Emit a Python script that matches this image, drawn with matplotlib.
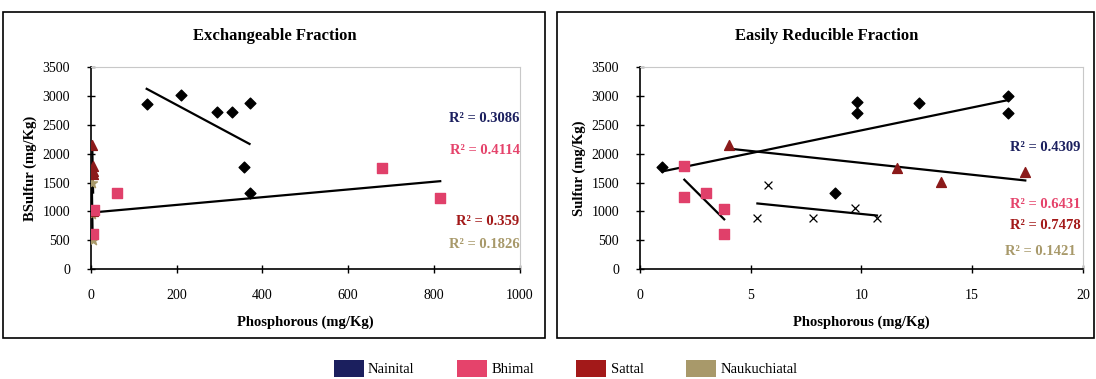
import numpy as np
import matplotlib
matplotlib.use("Agg")
import matplotlib.pyplot as plt
from matplotlib.patches import Patch, Rectangle

plt.rcParams['font.family'] = ['Liberation Serif', 'DejaVu Serif']

sites = ["Nainital", "Bhimal", "Sattal", "Naukuchiatal"]
site_colors = ["#1b1f5e", "#e5436b", "#a31919", "#a8996a"]

# Exchangeable fraction (left)
ex_nainital_p = [130, 210, 295, 330, 370, 357, 370]
ex_nainital_s = [2860, 3020, 2720, 2720, 2880, 1770, 1310]
ex_bhimal_p = [5, 60, 680, 815, 8]
ex_bhimal_s = [600, 1320, 1760, 1230, 1030]
ex_sattal_p = [3, 4, 4, 5, 5]
ex_sattal_s = [2150, 1780, 1700, 1650, 1000]
ex_nauk_p = [2, 3, 3, 4]
ex_nauk_s = [1500, 1000, 950, 500]
ex_r2 = ["0.3086", "0.4114", "0.359", "0.1826"]

# Easily reducible fraction (right)
er_nainital_p = [1, 9.8, 9.8, 12.6, 16.6, 16.6, 8.8]
er_nainital_s = [1770, 2890, 2700, 2870, 3000, 2700, 1310]
er_bhimal_p = [2, 2, 3, 3.8, 3.8]
er_bhimal_s = [1780, 1250, 1320, 1040, 600]
er_sattal_p = [4, 11.6, 13.6, 17.4]
er_sattal_s = [2150, 1750, 1510, 1680]
er_nauk_p = [5.3, 5.8, 7.8, 9.7, 10.7]
er_nauk_s = [890, 1460, 890, 1060, 890]
er_r2 = ["0.4309", "0.6431", "0.7478", "0.1421"]


def trend(ax, x, y):
    x = np.asarray(x, float)
    y = np.asarray(y, float)
    m, b = np.polyfit(x, y, 1)
    xs = np.array([x.min(), x.max()])
    ax.plot(xs, m * xs + b, color="black", lw=1.6, zorder=2)


def style(ax, xlab, ylab, xmax, xstep):
    ax.set_xlim(0, xmax)
    ax.set_ylim(0, 3500)
    ax.set_xticks(np.arange(0, xmax + 1e-9, xstep))
    ax.set_yticks(np.arange(0, 3501, 500))
    ax.tick_params(direction="inout", length=6, width=1, labelsize=10)
    ax.tick_params(axis="x", pad=11)
    ax.tick_params(axis="y", pad=12)
    for s in ["top", "right"]:
        ax.spines[s].set_color("#c8c8c8")
        ax.spines[s].set_linewidth(0.8)
    for s in ["left", "bottom"]:
        ax.spines[s].set_linewidth(1.2)
    ax.set_xlabel(xlab, fontsize=10.5, fontweight="bold", labelpad=10)
    ax.set_ylabel(ylab, fontsize=10.5, fontweight="bold", labelpad=4)


fig = plt.figure(figsize=(10.96, 3.79), dpi=100)

# panel frames
fig.patches.append(Rectangle((0.003, 0.108), 0.494, 0.86, transform=fig.transFigure,
                             fill=False, edgecolor="black", lw=1.2))
fig.patches.append(Rectangle((0.508, 0.108), 0.49, 0.86, transform=fig.transFigure,
                             fill=False, edgecolor="black", lw=1.2))
fig.text(0.251, 0.905, "Exchangeable Fraction", ha="center", va="center",
         fontsize=12, fontweight="bold")
fig.text(0.754, 0.905, "Easily Reducible Fraction", ha="center", va="center",
         fontsize=12, fontweight="bold")

ax1 = fig.add_axes([0.083, 0.290, 0.391, 0.533])
ax2 = fig.add_axes([0.584, 0.290, 0.404, 0.533])

# left panel
ax1.scatter(ex_nauk_p, ex_nauk_s, marker="*", s=55, color=site_colors[3], zorder=3)
ax1.scatter(ex_sattal_p, ex_sattal_s, marker="^", s=50, color="#8b1a1a", zorder=3)
ax1.scatter(ex_bhimal_p, ex_bhimal_s, marker="s", s=50, color="#e0406a", zorder=3)
ax1.scatter(ex_nainital_p, ex_nainital_s, marker="D", s=30, color="black", zorder=3)
trend(ax1, ex_nainital_p, ex_nainital_s)
trend(ax1, ex_bhimal_p, ex_bhimal_s)
trend(ax1, ex_sattal_p, ex_sattal_s)
trend(ax1, ex_nauk_p, ex_nauk_s)
style(ax1, "Phosphorous (mg/Kg)", "BSulfur (mg/Kg)", 1000, 200)

ex_r2_y = [0.745, 0.585, 0.235, 0.12]
for txt, c, yy in zip(ex_r2, site_colors, ex_r2_y):
    ax1.text(1.0, yy, f"R\u00b2 = {txt}", transform=ax1.transAxes, ha="right", va="center",
             color=c, fontsize=10.5, fontweight="bold")

# right panel
ax2.scatter(er_nauk_p, er_nauk_s, marker="x", s=32, color="black", lw=0.9, zorder=3)
ax2.scatter(er_sattal_p, er_sattal_s, marker="^", s=50, color="#8b1a1a", zorder=3)
ax2.scatter(er_bhimal_p, er_bhimal_s, marker="s", s=50, color="#e0406a", zorder=3)
ax2.scatter(er_nainital_p, er_nainital_s, marker="D", s=30, color="black", zorder=3)
trend(ax2, er_nainital_p, er_nainital_s)
trend(ax2, er_bhimal_p, er_bhimal_s)
trend(ax2, er_sattal_p, er_sattal_s)
trend(ax2, er_nauk_p, er_nauk_s)
style(ax2, "Phosphorous (mg/Kg)", "Sulfur (mg/Kg)", 20, 5)

er_r2_y = [0.6, 0.32, 0.215, 0.085]
er_r2_x = [0.995, 0.995, 0.995, 0.985]
for txt, c, xx, yy in zip(er_r2, site_colors, er_r2_x, er_r2_y):
    ax2.text(xx, yy, f"R\u00b2 = {txt}", transform=ax2.transAxes, ha="right", va="center",
             color=c, fontsize=10.5, fontweight="bold")

handles = [Patch(facecolor=c, edgecolor="none", label=s) for s, c in zip(sites, site_colors)]
fig.legend(handles=handles, loc="center", bbox_to_anchor=(0.516, 0.028), ncol=4,
           frameon=False, fontsize=10.5, handlelength=2.05, handleheight=1.35,
           columnspacing=2.9, handletextpad=0.3)

fig.savefig("out.png", dpi=100)
